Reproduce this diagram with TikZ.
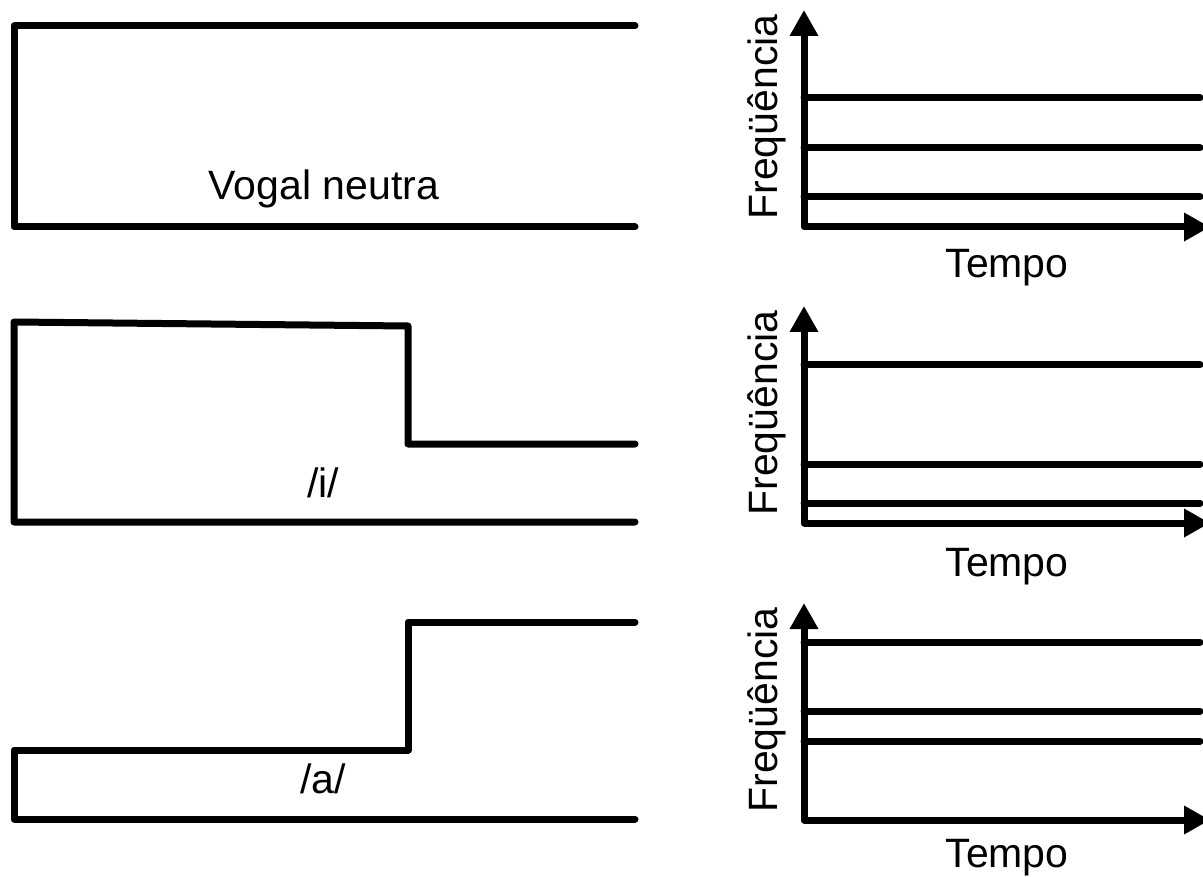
\documentclass[tikz,border=0pt]{standalone}
\usepackage{fontspec}
\setmainfont{Liberation Sans}
\usetikzlibrary{arrows.meta}
\begin{document}
\begin{tikzpicture}[x=1pt,y=-1pt,
  wall/.style={line width=7pt,line cap=round,line join=round},
  axis/.style={wall,{Triangle[length=26pt,width=27pt]}-{Triangle[length=26pt,width=27pt]}},
  formant/.style={wall},
  lbl/.style={font=\fontsize{41}{49}\selectfont,inner sep=0pt,anchor=base},
  ylbl/.style={lbl,rotate=90}]
\useasboundingbox (0,0) rectangle (1203,877);
\clip (0,0) rectangle (1203,877);

% vocal tract shapes
\draw[wall] (635,26) -- (14,26) -- (14,227) -- (635,227);
\draw[wall] (635,444) -- (408,444) -- (408,326) -- (14,322) -- (14,522) -- (635,522);
\draw[wall] (635,622) -- (408,622) -- (408,750) -- (14,750) -- (14,819) -- (635,819);

\node[lbl] (neutra) at (324,200) {Vogal neutra};
\node[lbl] (vi) at (323,497) {/i/};
\node[lbl] (va) at (323,793) {/a/};

% spectrogram sketches: origin y, three formant heights, time label baseline
\foreach \n/\oy/\fa/\fb/\fc/\tb in {1/227/98/148/197/278, 2/523/365/464/503/576, 3/820/642/711/741/867}{
  \coordinate (o\n) at (804,\oy);
  \coordinate (yt\n) at (804,\oy-217);
  \coordinate (xt\n) at (1210,\oy);
  \draw[axis] (yt\n) -- (o\n) -- (xt\n);
  \foreach \f in {\fa,\fb,\fc}{
    \draw[formant] (804,\f) -- (1200,\f);
  }
  \node[ylbl] (freq\n) at (777,\oy-110) {Freqüência};
  \node[lbl] (tempo\n) at (1007,\tb) {Tempo};
}
\end{tikzpicture}
\end{document}
